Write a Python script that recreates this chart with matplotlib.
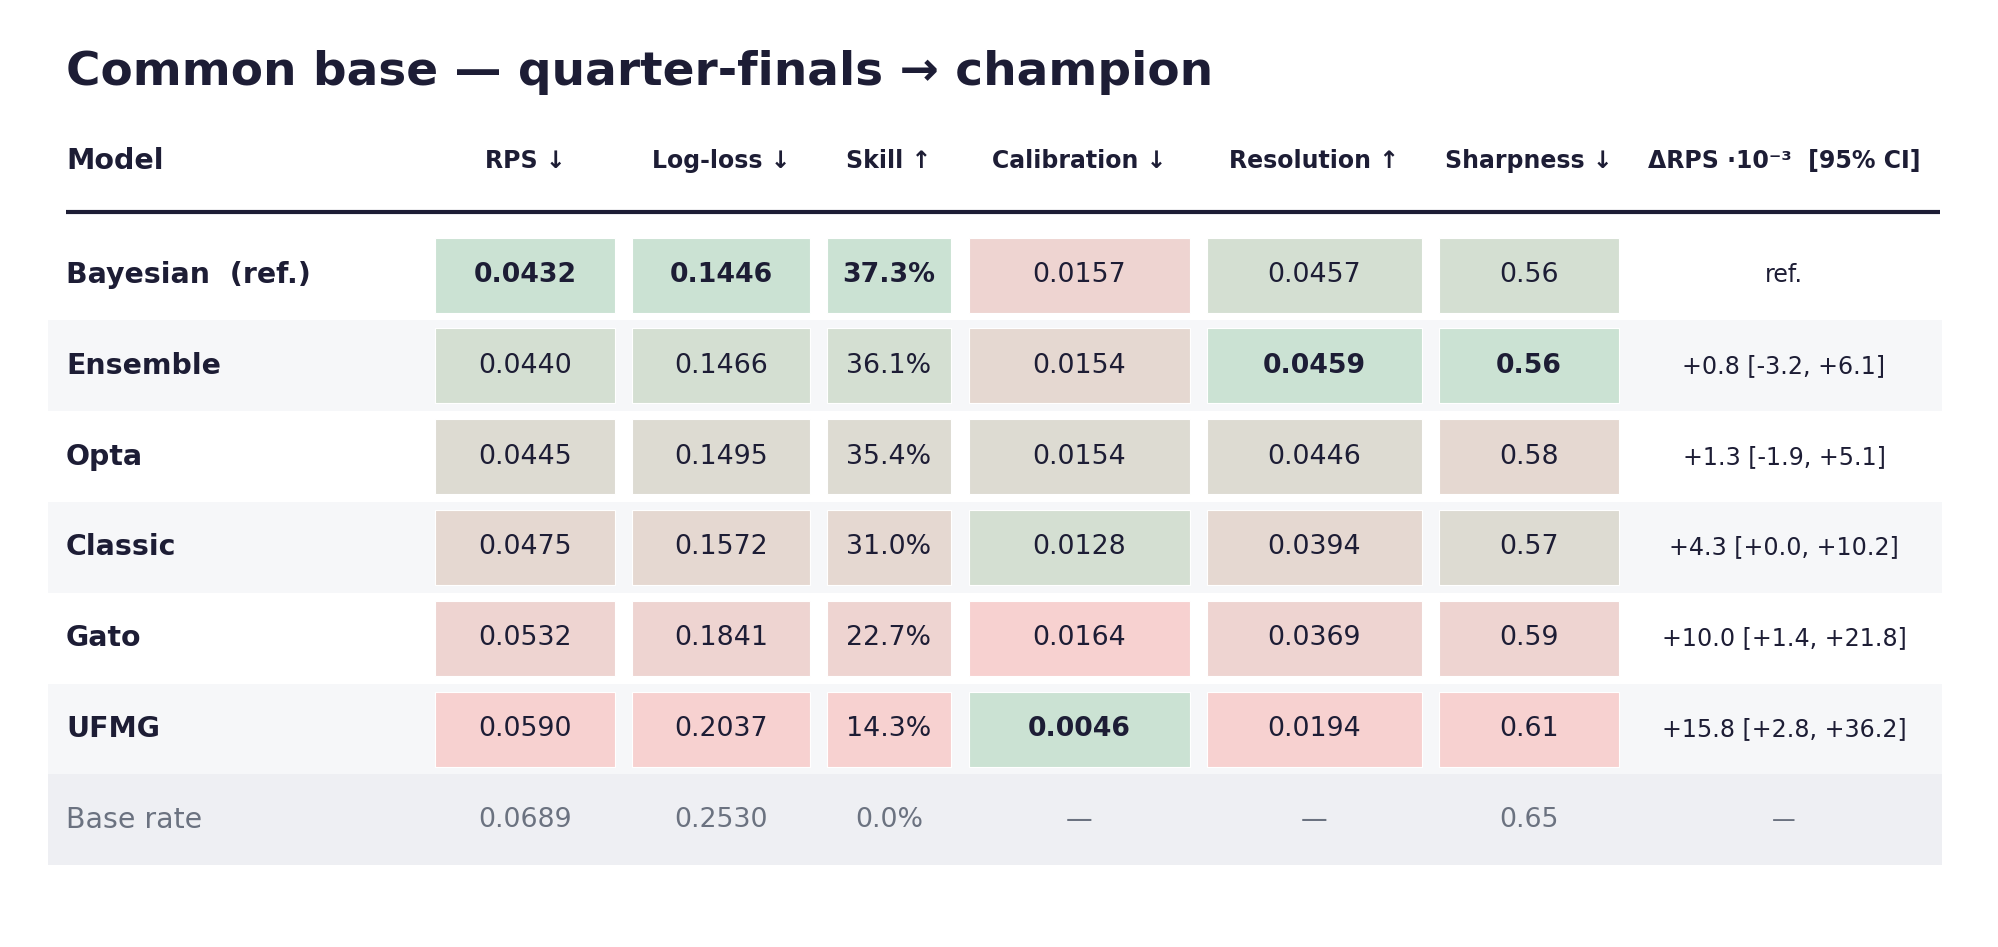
import numpy as np
import matplotlib
matplotlib.use('Agg')
import matplotlib.pyplot as plt
from matplotlib.colors import to_rgb

# table data
models = ['Bayesian  (ref.)', 'Ensemble', 'Opta', 'Classic', 'Gato', 'UFMG']
rps = [0.0432, 0.0440, 0.0445, 0.0475, 0.0532, 0.0590]
logloss = [0.1446, 0.1466, 0.1495, 0.1572, 0.1841, 0.2037]
skill = [37.3, 36.1, 35.4, 31.0, 22.7, 14.3]
calibration = [0.0157, 0.0154, 0.0154, 0.0128, 0.0164, 0.0046]
resolution = [0.0457, 0.0459, 0.0446, 0.0394, 0.0369, 0.0194]
sharpness = [0.56, 0.56, 0.58, 0.57, 0.59, 0.61]
delta_rps = [None, 0.8, 1.3, 4.3, 10.0, 15.8]
ci_low = [None, -3.2, -1.9, 0.0, 1.4, 2.8]
ci_high = [None, 6.1, 5.1, 10.2, 21.8, 36.2]

base_label = 'Base rate'
base_rps = 0.0689
base_logloss = 0.2530
base_skill = 0.0
base_sharpness = 0.65

headers = ['RPS ↓', 'Log-loss ↓', 'Skill ↑', 'Calibration ↓', 'Resolution ↑',
           'Sharpness ↓', 'ΔRPS ·10⁻³  [95% CI]']

# columns: values, formatter, higher is better
columns = [
    (rps, '{:.4f}', False),
    (logloss, '{:.4f}', False),
    (skill, '{:.1f}%', True),
    (calibration, '{:.4f}', False),
    (resolution, '{:.4f}', True),
    (sharpness, '{:.2f}', False),
]
base_values = [base_rps, base_logloss, base_skill, None, None, base_sharpness]

# layout (pixels)
col_x = [525, 721, 889, 1079.5, 1314.5, 1529, 1784]
col_w = [180, 178, 124, 221, 215, 180]
row_y0 = 275
row_h = 90.8
cell_h = 75
DARK = '#1d1d35'
GRAY = '#6b7280'
GOOD = np.array(to_rgb('#cbe2d3'))
BAD = np.array(to_rgb('#f7d1d0'))

fig = plt.figure(figsize=(19.99, 9.47), dpi=100)
ax = fig.add_axes([0, 0, 1, 1])
ax.set_xlim(0, 1999)
ax.set_ylim(947, 0)
ax.axis('off')

ax.text(66, 72, 'Common base — quarter-finals → champion', fontsize=33.8,
        fontweight='bold', color=DARK, va='center', ha='left')

ax.text(66, 161, 'Model', fontsize=20.5, fontweight='bold', color=DARK,
        va='center', ha='left')
for x, h in zip(col_x, headers):
    ax.text(x, 161, h, fontsize=17, fontweight='bold', color=DARK,
            va='center', ha='center')
ax.plot([66, 1940], [212, 212], color=DARK, lw=3, solid_capstyle='butt')

n = len(models)
ys = [row_y0 + i * row_h for i in range(n + 1)]

# striped row backgrounds
stripe_rows = [ys[i] for i in range(n) if i % 2 == 1]
ax.barh(stripe_rows, 1894, left=48, height=row_h, color='#f6f7f9', zorder=0)
ax.barh([ys[n]], 1894, left=48, height=row_h, color='#eeeff3', zorder=0)

for j, (vals, fmt, higher) in enumerate(columns):
    # rank models, ties broken toward later rows
    order = sorted(range(n), key=lambda i: ((-vals[i] if higher else vals[i]), -i))
    ranks = [0] * n
    for r, i in enumerate(order):
        ranks[i] = r
    colors = [tuple(GOOD + (BAD - GOOD) * ranks[i] / (n - 1)) for i in range(n)]
    ax.bar([col_x[j]] * n, cell_h, width=col_w[j],
           bottom=[y - cell_h / 2 for y in ys[:n]], color=colors,
           edgecolor='white', linewidth=0.8, zorder=1)
    for i in range(n):
        ax.text(col_x[j], ys[i], fmt.format(vals[i]), fontsize=19.3,
                fontweight='bold' if ranks[i] == 0 else 'normal',
                color=DARK, ha='center', va='center', zorder=2)
    bv = base_values[j]
    ax.text(col_x[j], ys[n], '—' if bv is None else fmt.format(bv),
            fontsize=19.3, color=GRAY, ha='center', va='center', zorder=2)

for i in range(n):
    ax.text(66, ys[i], models[i], fontsize=20.4, fontweight='bold',
            color=DARK, ha='left', va='center')
    if delta_rps[i] is None:
        s = 'ref.'
    else:
        s = f'{delta_rps[i]:+.1f} [{ci_low[i]:+.1f}, {ci_high[i]:+.1f}]'
    ax.text(col_x[6], ys[i], s, fontsize=17.1, color=DARK,
            ha='center', va='center')

ax.text(66, ys[n], base_label, fontsize=20.4, color=GRAY, ha='left', va='center')
ax.text(col_x[6], ys[n], '—', fontsize=17.1, color=GRAY, ha='center', va='center')

fig.savefig('out.png', dpi=100)
